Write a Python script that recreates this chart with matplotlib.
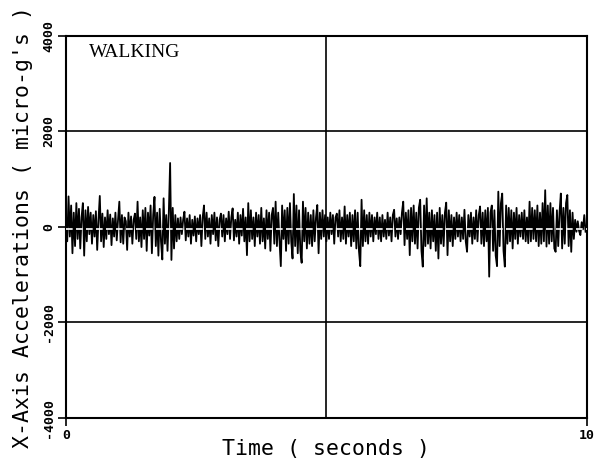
import matplotlib
matplotlib.use("Agg")
import matplotlib.pyplot as plt
import numpy as np

# acceleration samples (micro-g), 0.025 s apart
accel = [
    200, -300, 640, -200, 450, -550, 300, -400, 500, -250, 380, -450, 200, 500, -600, 350, -300, 420, -150, 300,
    -350, 250, -200, 330, -480, 150, 650, -300, 280, -420, 200, -250, 350, -150, 260, -380, 180, -200, 300, -280,
    150, 530, -320, 250, -350, 200, 120, -480, 300, -200, 220, -350, 150, 280, -250, 530, -300, 200, -420, 350,
    -250, 400, -500, 300, -180, 450, -550, 250, 630, -400, 300, -600, 380, -300, -680, 600, -350, 250, -500, 300,
    1340, -690, 400, -450, 250, -300, 180, -250, 200, -150, 150, 320, -280, 180, -200, 250, -350, 150, -180, 220,
    -300, 180, -150, 250, -400, 200, 450, -250, 300, -200, 180, -350, 250, -150, 300, -280, 200, -400, 150, 280,
    -200, 250, -300, 180, -150, 320, -250, 200, 390, -280, 150, -200, 300, -350, 250, -180, 380, -300, 200, -590,
    500, -300, 350, -250, 200, -400, 300, -200, 250, -350, 400, -300, 180, -450, 350, -250, 300, -500, 250, 400,
    -350, 530, -400, 300, -300, -820, 450, -250, 350, -500, 400, -350, 500, -300, -660, 690, -400, 450, -550, 350,
    -500, -750, 530, -300, 400, -450, 300, -350, 250, -400, 350, -300, 200, 460, -550, 300, -250, 350, -200, 250,
    -300, 200, -250, 300, -150, 250, -350, 200, 280, -200, 350, -300, 200, -250, 430, -350, 250, -200, 300, -400,
    250, -300, 350, -450, 300, -500, -820, 570, -400, 350, -300, 250, -350, 300, -200, 250, -300, 200, -150, 300,
    -250, 200, -300, 250, -200, 150, -250, 300, -180, 200, -300, 250, 360, -200, 180, -250, 200, -150, 300, 530,
    -380, 300, -250, 350, -590, 400, -300, 450, -350, 300, -450, 400, 570, -500, -830, 450, -400, 600, -350, 300,
    -450, 350, -300, 250, -500, 300, -660, 400, -350, 250, -400, 300, 510, -590, 350, -300, 250, -400, 200, -250,
    300, -200, 250, -300, 200, -250, 360, -300, -520, 250, -200, 300, -350, 200, -250, 350, -300, 250, 430, -350,
    300, -400, 350, -300, 400, -1040, 300, 450, -500, 350, -600, -820, 740, -400, 500, 700, -500, -830, 450, -350,
    400, -300, 350, -450, 300, -250, 400, -350, 250, -200, 300, -250, 350, -300, 200, -340, 530, -300, 400, -250,
    350, -300, 450, -400, 300, -350, 500, -300, 770, -410, 450, -350, 500, -300, 400, -450, -520, 350, -400, 300,
    700, -450, 400, -350, 500, 670, -400, 350, -520, 300, -250, 150, -100, 120, -80, -170, 100, -50, 250, -100,
]
dt = 0.025
y_ticks = [-4000, -2000, 0, 2000, 4000]
y_tick_labels = ["-4000", "-2000", "0", "2000", "4000"]
x_ticks = [0, 10]
x_tick_labels = ["0", "10"]

t = np.arange(len(accel)) * dt

fig = plt.figure(figsize=(5.94, 4.62), dpi=100)
ax = fig.add_axes([0.111, 0.0952, 0.877, 0.827])

ax.plot(t, accel, color="black", lw=1.3)
# white zero line drawn across the trace
ax.axhline(-40, color="white", lw=1.2, ls=(0, (4, 2)), zorder=3)

for yv in (2000, -2000):
    ax.axhline(yv, color="black", lw=1.2)
ax.axvline(5, color="black", lw=1.2)

ax.set_xlim(0, 10)
ax.set_ylim(-4000, 4000)

mono = "DejaVu Sans Mono"
ax.set_yticks(y_ticks)
ax.set_yticklabels(y_tick_labels, rotation=90, va="center", family=mono,
                   fontsize=9.5, fontweight="bold")
ax.set_xticks(x_ticks)
ax.set_xticklabels(x_tick_labels, family=mono, fontsize=9.5, fontweight="bold")
ax.tick_params(direction="out", length=6, width=1.2, color="black", pad=2)

for s in ax.spines.values():
    s.set_linewidth(1.5)

ax.set_xlabel("Time ( seconds )", family=mono, fontsize=15.5, labelpad=-2)
ax.set_ylabel("X-Axis Accelerations ( micro-g's )", family=mono, fontsize=15.5, labelpad=6)

ax.text(0.45, 3650, "WALKING", family="Liberation Serif", fontsize=14, va="center")

fig.savefig("out.png", dpi=100)
